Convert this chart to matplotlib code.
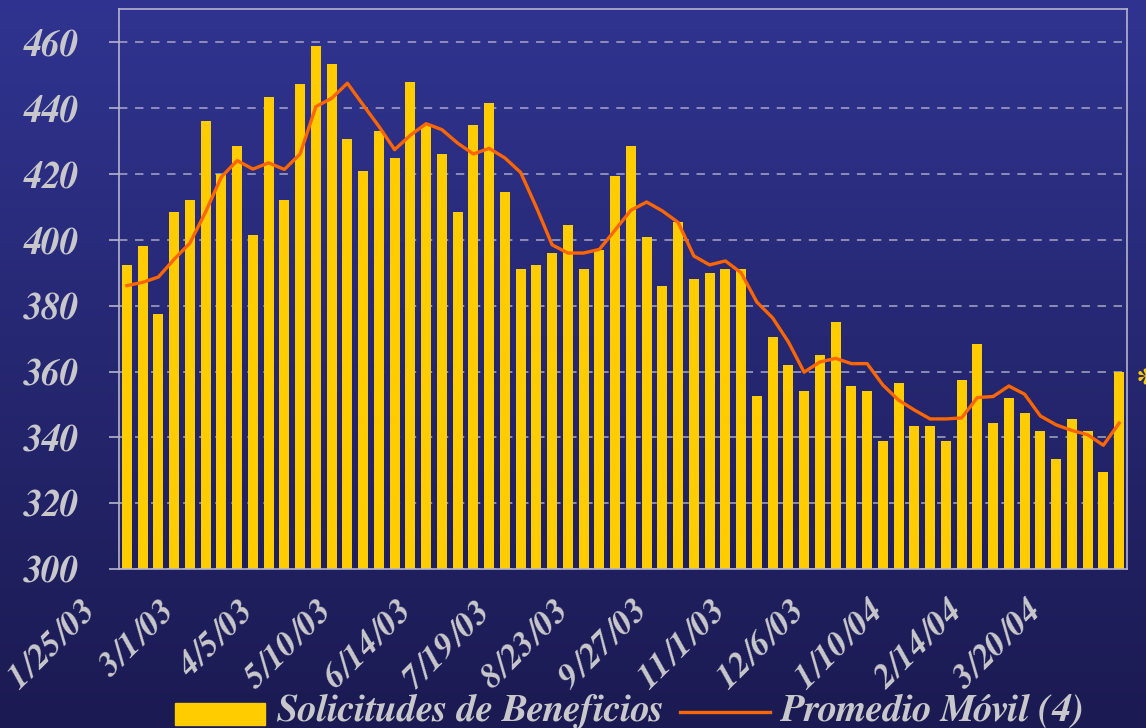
import numpy as np
import matplotlib
matplotlib.use("Agg")
import matplotlib.pyplot as plt
from matplotlib.patches import Rectangle
from matplotlib.lines import Line2D
from matplotlib.transforms import ScaledTranslation

# ---- data (weekly, 1/25/03 .. 4/10/04) ----
solicitudes = [392.5, 398, 377.5, 408.5, 412, 436, 420, 428.5, 401.5, 443.5,
               412, 447.5, 459, 453.5, 430.5, 421, 433, 425, 448, 435,
               426, 408.5, 435, 441.5, 414.5, 391, 392.5, 396, 404.5, 391,
               397, 419.5, 428.5, 401, 386, 405.5, 388, 390, 391, 391,
               352.5, 370.5, 362, 354, 365, 375, 355.5, 354, 339, 356.5,
               343.5, 343.5, 339, 357.5, 368.5, 344.5, 352, 347.5, 342, 333.5,
               345.5, 342, 329.5, 360]
promedio_movil = [386.1, 387.1, 388.7, 394.1, 399.0, 408.5, 419.1, 424.1, 421.5, 423.4,
                  421.4, 426.1, 440.5, 443.0, 447.6, 441.0, 434.5, 427.4, 431.8, 435.3,
                  433.5, 429.4, 426.1, 427.8, 424.9, 420.5, 409.9, 398.5, 396.0, 396.0,
                  397.1, 403.0, 409.0, 411.5, 408.8, 405.3, 395.1, 392.4, 393.6, 390.0,
                  381.1, 376.3, 369.0, 359.8, 362.9, 364.0, 362.4, 362.4, 355.9, 351.3,
                  348.3, 345.6, 345.6, 345.9, 352.1, 352.4, 355.6, 353.1, 346.5, 343.8,
                  342.1, 340.8, 337.6, 344.3]
tick_labels = ["1/25/03", "3/1/03", "4/5/03", "5/10/03", "6/14/03", "7/19/03",
               "8/23/03", "9/27/03", "11/1/03", "12/6/03", "1/10/04", "2/14/04",
               "3/20/04"]
y_ticks = [300, 320, 340, 360, 380, 400, 420, 440, 460]
legend_labels = ["Solicitudes de Beneficios", "Promedio Móvil (4)"]

W, H = 1146, 728
fig = plt.figure(figsize=(W / 100, H / 100), dpi=100)

# gradient background
bg = fig.add_axes([0, 0, 1, 1], zorder=-10)
top = np.array([48, 52, 144]) / 255
bot = np.array([27, 26, 82]) / 255
t = np.linspace(0, 1, 256)[:, None]
grad = top[None, :] * (1 - t) + bot[None, :] * t
bg.imshow(grad[:, None, :], aspect="auto", extent=[0, 1, 0, 1])
bg.set_axis_off()

def fx(px):
    return px / W

def fy(py):
    return 1 - py / H

ax = fig.add_axes([fx(119), fy(569), fx(1127) - fx(119), fy(8.5) - fy(569)])
ax.set_facecolor("none")

x = np.arange(len(solicitudes))
ax.bar(x, [v - 300 for v in solicitudes], bottom=300, width=0.63,
       color="#FFCC00", zorder=2)
ax.plot(x, promedio_movil, color="#FF6600", lw=2.4, zorder=3,
        solid_joinstyle="round")

ax.set_xlim(-0.5, len(solicitudes) - 0.5)
ax.set_ylim(300, 470.3)

spine_col = "#B4B4CC"
for s in ax.spines.values():
    s.set_color(spine_col)
    s.set_linewidth(1.2)

ax.set_axisbelow(True)
ax.yaxis.grid(True, color="#A8A8C4", lw=1.1, linestyle=(0, (5.5, 5)))
ax.set_yticks(y_ticks)
lab_font = dict(family="FreeSerif", weight="bold", style="italic")
txt_col = "#C8C8CC"
ax.set_yticklabels([str(v) for v in y_ticks], fontsize=27, color=txt_col,
                   **lab_font)
ax.tick_params(axis="y", direction="out", length=7, width=1.2,
               color=spine_col, pad=22)

ax.set_xticks(np.arange(0, len(solicitudes), 5))
ax.set_xticklabels(tick_labels, fontsize=25, color=txt_col, rotation=45,
                   ha="right", va="top", rotation_mode="anchor", **lab_font)
ax.tick_params(axis="x", length=0, pad=0)
off = ScaledTranslation(-47 / 100, -26 / 100, fig.dpi_scale_trans)
for lbl in ax.get_xticklabels():
    lbl.set_transform(lbl.get_transform() + off)

# asterisk at right edge
fig.text(fx(1136), fy(385), "*", color="#FFCC00", fontsize=26,
         ha="left", va="center", **lab_font)

# legend
fig.patches.append(Rectangle((fx(175), fy(725)), fx(265) - fx(175),
                             fy(703) - fy(725), transform=fig.transFigure,
                             color="#FFCC00"))
fig.text(fx(277), fy(711), legend_labels[0], color=txt_col, fontsize=28,
         ha="left", va="center", **lab_font)
fig.lines.append(Line2D([fx(680), fx(770)], [fy(712), fy(712)],
                        transform=fig.transFigure, color="#FF6600", lw=2.4))
fig.text(fx(780), fy(711), legend_labels[1], color=txt_col, fontsize=28,
         ha="left", va="center", **lab_font)

fig.savefig("out.png", dpi=100)
